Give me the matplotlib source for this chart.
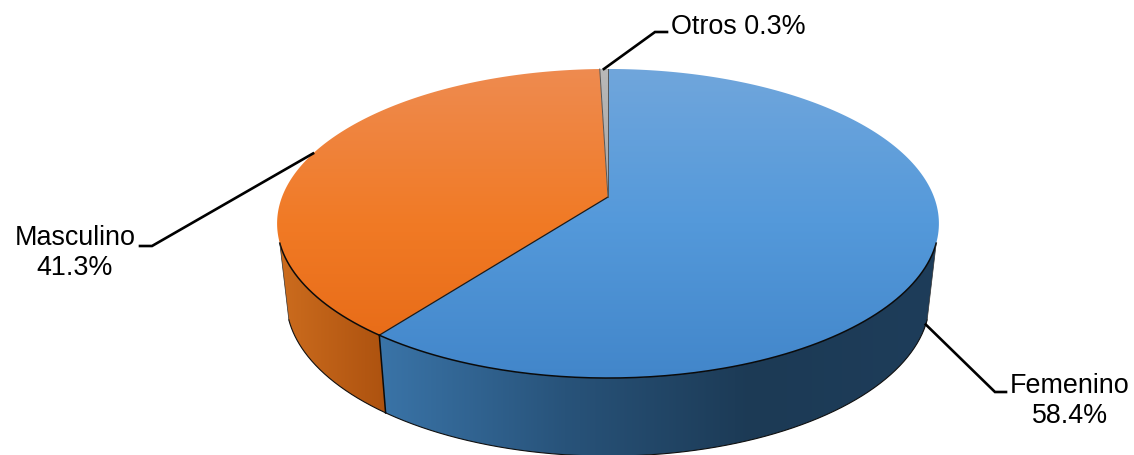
import numpy as np
import matplotlib

matplotlib.use("Agg")
import matplotlib.pyplot as plt
from matplotlib.colors import LinearSegmentedColormap
from matplotlib.patches import Polygon

plt.rcParams["font.family"] = ["Liberation Sans", "DejaVu Sans"]

# data
categories = ["Femenino", "Masculino", "Otros"]
values = [58.4, 41.3, 0.3]

# colours, from top to bottom for the lid, left to right for the wall
top_colors = [
    ["#70a6dc", "#5499da", "#4286ca"],
    ["#ee8b50", "#f17a25", "#e56814"],
    ["#b8b8b8", "#a5a5a5", "#a5a5a5"],
]
side_colors = [
    ["#3a74a8", "#28537a", "#1c3a55", "#1e3d5a"],
    ["#cc6c1e", "#ad520f"],
]

# the pie seen in perspective: y = (a*v + b) / (1 + c*v), x = cx + r*u / (1 + c*v)
cx = 608
c = -0.1715
top = dict(a=116.2, b=197.0, r=326.0)
bot = dict(a=104.6, b=273.3, r=317.0)
silhouette = 107  # degrees where the wall starts to be visible
warp = 7.3
min_slice = 1.7  # degrees, very thin slices are drawn at least this wide


def project(theta, p):
    t = np.radians(theta)
    u = np.sin(t)
    v = -np.cos(t)
    d = 1 + c * v
    return np.column_stack([cx + p["r"] * u / d, (p["a"] * v + p["b"]) / d])


def arc(t0, t1, p):
    return project(np.linspace(t0, t1, 200), p)


def gradient(ax, poly, colors, vertical, zorder, box=None):
    cmap = LinearSegmentedColormap.from_list("g", colors)
    if box is None:
        box = poly
    x0, y0 = box.min(axis=0)
    x1, y1 = box.max(axis=0)
    ramp = np.linspace(0, 1, 256)
    ramp = ramp[:, None] if vertical else ramp[None, :]
    im = ax.imshow(ramp, cmap=cmap, extent=[x0, x1, y1, y0], aspect="auto",
                   origin="upper", zorder=zorder, interpolation="bilinear")
    patch = Polygon(poly, closed=True, fc="none", ec="none")
    ax.add_patch(patch)
    im.set_clip_path(patch)


# angles clockwise from 12 o'clock
edges = np.cumsum([0] + values) * 3.6
angles = edges + warp * np.sin(np.radians(edges) / 2)
angles[2] = min(angles[2], angles[3] - min_slice)
center = np.array([[cx, top["b"]]])

fig = plt.figure(figsize=(11.34, 4.55), dpi=100)
ax = fig.add_axes([0, 0, 1, 1])

# walls
wall_ranges = [(silhouette, angles[1]), (angles[1], 360 - silhouette)]
for (t0, t1), colors in zip(wall_ranges, side_colors):
    upper = arc(t0, t1, top)
    lower = arc(t0, t1, bot)
    poly = np.vstack([upper, lower[::-1]])
    gradient(ax, poly, colors, False, 1)
    ax.plot(lower[:, 0], lower[:, 1], color="#101010", lw=0.8, zorder=2)

# lid
whole = arc(0, 360, top)
for i in range(len(values)):
    poly = np.vstack([center, arc(angles[i], angles[i + 1], top)])
    gradient(ax, poly, top_colors[i], True, 3, box=whole)

# dark edges
front = arc(silhouette, 360 - silhouette, top)
ax.plot(front[:, 0], front[:, 1], color="#0a0a0a", lw=1.1, zorder=4)
split_top = project(angles[[1]], top)[0]
split_bot = project(angles[[1]], bot)[0]
ax.plot([cx, split_top[0]], [top["b"], split_top[1]], color="#1a1a1a", lw=0.9, zorder=4)
ax.plot([split_top[0], split_bot[0]], [split_top[1], split_bot[1]],
        color="#0a0a0a", lw=1.1, zorder=4)
for x, y in project(angles[2:], top):
    ax.plot([cx, x], [top["b"], y], color="#555555", lw=0.7, zorder=4)
for t in [silhouette, 360 - silhouette]:
    a = project(np.array([t]), top)[0]
    b = project(np.array([t]), bot)[0]
    ax.plot([a[0], b[0]], [a[1], b[1]], color="#303030", lw=0.5, zorder=4)

# leaders start from the middle of each slice
mid = (angles[:-1] + angles[1:]) / 2
anchors = [
    project(mid[[0]], bot)[0],
    project(mid[[1]], top)[0],
    project(mid[[2]], top)[0],
]
elbows = [[(995, 392), (1006, 392)], [(152, 246), (140, 246)], [(655, 32), (667, 32)]]
for anchor, elbow in zip(anchors, elbows):
    pts = np.vstack([anchor, elbow])
    ax.plot(pts[:, 0], pts[:, 1], color="black", lw=1.9, zorder=5, solid_joinstyle="miter")

# labels
fs = 19.4
ax.text(1070, 401, f"{categories[0]}\n{values[0]}%", ha="center", va="center",
        fontsize=fs, linespacing=1.2, color="black")
ax.text(75, 253, f"{categories[1]}\n{values[1]}%", ha="center", va="center",
        fontsize=fs, linespacing=1.2, color="black")
ax.text(671, 27, f"{categories[2]} {values[2]}%", ha="left", va="center",
        fontsize=fs, color="black")

ax.set_xlim(0, 1134)
ax.set_ylim(455, 0)
ax.axis("off")
fig.savefig("out.png", dpi=100)
